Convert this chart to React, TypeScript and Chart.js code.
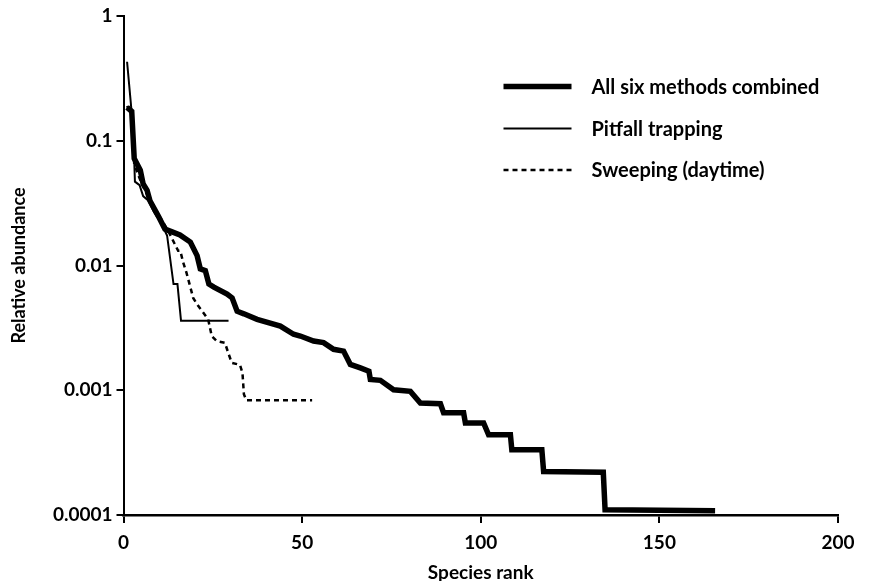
import { useEffect, useRef } from 'react';
import { Chart, registerables } from 'chart.js';

Chart.register(...registerables);

const seriesNames = ['All six methods combined', 'Pitfall trapping', 'Sweeping (daytime)'];

const combinedRank = [1, 2.3, 3.0, 4.7, 5.5, 6.6, 7.4, 9.7, 11.6, 13.6, 15.8, 18.7, 20.6, 21.5, 22.9, 23.9, 25.3, 29.0, 30.4, 31.8, 33.7, 37.4, 43.9, 47.6, 49.5, 53.2, 56.0, 58.8, 61.6, 63.5, 66.3, 68.7, 69.1, 71.9, 75.6, 80.3, 83.1, 88.7, 89.6, 95.2, 95.7, 100.8, 102.2, 108.3, 108.7, 117.1, 117.6, 134.3, 134.8, 165.6];
const combinedAbundance = [0.185, 0.172, 0.072, 0.058, 0.045, 0.04, 0.033, 0.025, 0.0196, 0.0186, 0.0176, 0.0154, 0.012, 0.0094, 0.0091, 0.0071, 0.0067, 0.0059, 0.0055, 0.0043, 0.0041, 0.0037, 0.00327, 0.00281, 0.00272, 0.00248, 0.00241, 0.00213, 0.00206, 0.00161, 0.00151, 0.00142, 0.00122, 0.0012, 0.00101, 0.00098, 0.00079, 0.00078, 0.00066, 0.00066, 0.000547, 0.000547, 0.00044, 0.00044, 0.000334, 0.000334, 0.000223, 0.00022, 0.00011, 0.000108];

const pitfallRank = [1, 2.7, 3.2, 4.5, 5.5, 7, 8.5, 10.5, 12.2, 14.0, 15.1, 16.1, 29.4];
const pitfallAbundance = [0.43, 0.125, 0.047, 0.044, 0.036, 0.033, 0.027, 0.022, 0.0174, 0.0071, 0.0071, 0.0036, 0.0036];

const sweepRank = [1, 2.3, 3.0, 4.5, 6, 8, 10, 12.5, 15.3, 15.9, 16.7, 17.6, 18.6, 19.5, 20.9, 22.3, 23.7, 24.7, 26.1, 28.4, 29.3, 30.3, 32.6, 33.3, 33.7, 34.4, 52.8];
const sweepAbundance = [0.19, 0.16, 0.065, 0.05, 0.04, 0.031, 0.025, 0.019, 0.0131, 0.0131, 0.0106, 0.0088, 0.0069, 0.0055, 0.00475, 0.0042, 0.0037, 0.00272, 0.00248, 0.0024, 0.002, 0.00166, 0.0016, 0.00138, 0.00093, 0.00083, 0.00083];

const yTickValues = [1, 0.1, 0.01, 0.001, 0.0001];
const yTickLabels = ['1', '0.1', '0.01', '0.001', '0.0001'];
const xTickValues = [0, 50, 100, 150, 200];

const FONT = 'Lato, "Open Sans", sans-serif';

const toPoints = (xs: number[], ys: number[]) => xs.map((x, i) => ({ x, y: ys[i] }));

const legendPlugin = {
  id: 'customLegend',
  afterDraw(chart: any) {
    const { ctx, chartArea } = chart;
    const x0 = chartArea.left + 380;
    const len = 68;
    const tx = chartArea.left + 468;
    const rows = [70.5, 112.5, 154];
    ctx.save();
    ctx.font = `bold 20px ${FONT}`;
    ctx.textBaseline = 'middle';
    ctx.textAlign = 'left';
    chart.data.datasets.forEach((ds: any, i: number) => {
      const y = chartArea.top + rows[i];
      ctx.beginPath();
      ctx.strokeStyle = '#000';
      ctx.lineWidth = ds.borderWidth;
      ctx.setLineDash(ds.borderDash || []);
      ctx.moveTo(x0, y);
      ctx.lineTo(x0 + len, y);
      ctx.stroke();
      ctx.setLineDash([]);
      ctx.fillStyle = '#000';
      ctx.fillText(ds.label, tx, y + 1);
    });
    ctx.restore();
  },
};

export default function App() {
  const ref = useRef<HTMLCanvasElement | null>(null);
  useEffect(() => {
    document.body.style.margin = '0';
    const canvas = ref.current;
    if (!canvas) return;
    const chart = new Chart(canvas, {
      type: 'line',
      data: {
        datasets: [
          {
            label: seriesNames[0],
            data: toPoints(combinedRank, combinedAbundance),
            borderColor: '#000',
            borderWidth: 5.5,
            pointRadius: 0,
            tension: 0,
            fill: false,
          },
          {
            label: seriesNames[1],
            data: toPoints(pitfallRank, pitfallAbundance),
            borderColor: '#000',
            borderWidth: 2,
            pointRadius: 0,
            tension: 0,
            fill: false,
          },
          {
            label: seriesNames[2],
            data: toPoints(sweepRank, sweepAbundance),
            borderColor: '#000',
            borderWidth: 2.5,
            borderDash: [5, 4],
            pointRadius: 0,
            tension: 0,
            fill: false,
          },
        ],
      },
      options: {
        animation: false,
        responsive: false,
        maintainAspectRatio: false,
        layout: { padding: { left: 0, right: 31, top: 16, bottom: 0 } },
        plugins: {
          legend: { display: false },
          tooltip: { enabled: false },
        },
        scales: {
          x: {
            type: 'linear',
            min: 0,
            max: 200,
            afterBuildTicks: (scale: any) => {
              scale.ticks = xTickValues.map((v) => ({ value: v }));
            },
            afterFit: (scale: any) => {
              scale.height = 66;
            },
            border: { color: '#000', width: 2.5 },
            grid: { drawOnChartArea: false, drawTicks: true, tickLength: 8, color: '#000', lineWidth: 2 },
            ticks: {
              color: '#000',
              padding: 8,
              maxRotation: 0,
              font: { family: FONT, size: 19, weight: 'bold' },
            },
            title: {
              display: true,
              text: 'Species rank',
              color: '#000',
              padding: { top: 0, bottom: -1 },
              font: { family: FONT, size: 19, weight: 'bold', lineHeight: 1 },
            },
          },
          y: {
            type: 'logarithmic',
            min: 0.0001,
            max: 1,
            afterBuildTicks: (scale: any) => {
              scale.ticks = yTickValues.map((v) => ({ value: v }));
            },
            afterFit: (scale: any) => {
              scale.width = 123.5;
            },
            border: { color: '#000', width: 2 },
            grid: { drawOnChartArea: false, drawTicks: true, tickLength: 7, color: '#000', lineWidth: 2 },
            ticks: {
              color: '#000',
              padding: 4,
              font: { family: FONT, size: 19, weight: 'bold' },
              callback: (value: any) => {
                const idx = yTickValues.findIndex((v) => Math.abs(v - Number(value)) < v * 1e-6);
                return idx >= 0 ? yTickLabels[idx] : '';
              },
            },
            title: {
              display: true,
              text: 'Relative abundance',
              color: '#000',
              padding: { top: 8, bottom: 0 },
              font: { family: FONT, size: 18, weight: 'bold', lineHeight: 1.2 },
            },
          },
        },
      },
      plugins: [legendPlugin],
    });
    return () => chart.destroy();
  }, []);
  return <canvas ref={ref} width={869} height={581} style={{ display: 'block', width: 869, height: 581 }} />;
}
